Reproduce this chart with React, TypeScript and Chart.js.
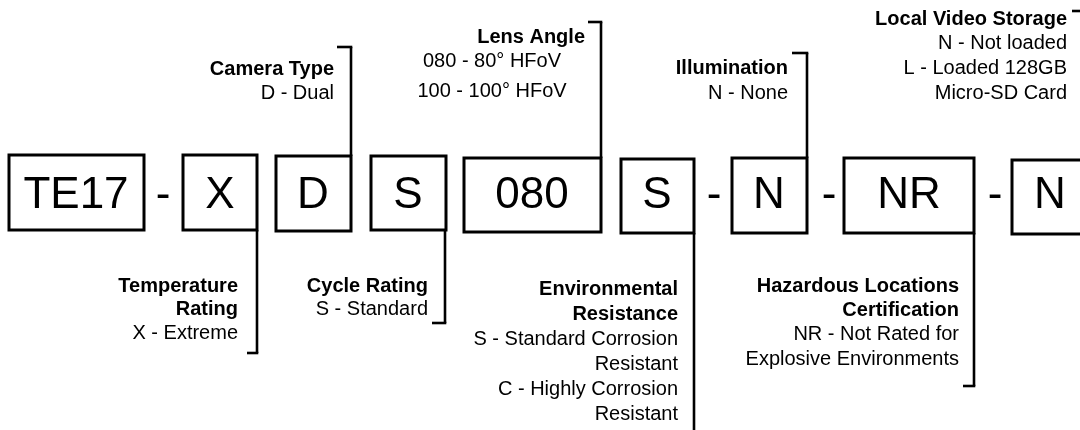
import React, { useEffect, useRef } from "react";
import { Chart, registerables } from "chart.js";

Chart.register(...registerables);

// Model code segments (boxed) and separators
const codes = ["TE17", "X", "D", "S", "080", "S", "N", "NR", "N"];
const boxLeft = [9, 183, 276, 371, 464, 621, 732, 844, 1012];
const boxRight = [144, 257, 351, 446, 601, 694, 807, 974, 1095];
const boxTop = [155, 155, 156, 156, 158, 159, 158, 158, 160];
const boxBottom = [230, 230, 231, 230, 232, 233, 233, 233, 234];
const codeCenter = [76, 220, 313, 408, 532, 657, 769, 909, 1050];
const separators = ["-", "-", "-", "-"];
const separatorX = [163, 714, 829, 995];

// Annotation labels
const labelTitles = [
  ["Camera Type"],
  ["Lens Angle"],
  ["Illumination"],
  ["Local Video Storage"],
  ["Temperature", "Rating"],
  ["Cycle Rating"],
  ["Environmental", "Resistance"],
  ["Hazardous Locations", "Certification"],
];
const labelLines = [
  ["D - Dual"],
  ["080 - 80° HFoV", "100 - 100° HFoV"],
  ["N - None"],
  ["N - Not loaded", "L - Loaded 128GB", "Micro-SD Card"],
  ["X - Extreme"],
  ["S - Standard"],
  ["S - Standard Corrosion", "Resistant", "C - Highly Corrosion", "Resistant"],
  ["NR - Not Rated for", "Explosive Environments"],
];
const labelBox = [2, 4, 6, 8, 1, 3, 5, 7];
const labelSide = ["top", "top", "top", "top", "bottom", "bottom", "bottom", "bottom"];
const labelTextRight = [334, 585, 788, 1067, 238, 428, 678, 959];
const labelLineCenter = [null, 492, null, null, null, null, null, null];
const labelBaselines = [
  [75, 99],
  [43, 67, 97],
  [74, 99],
  [25, 49, 74, 99],
  [292, 315, 339],
  [292, 315],
  [295, 320, 345, 370, 395, 420],
  [292, 316, 340, 365],
];
const bracketX = [351, 601, 807, 1085, 257, 445, 694, 974];
const bracketEnd = [47, 22, 53, 11, 353, 323, 440, 386];
const bracketTick = [337, 588, 792, 1072, 247, 432, 694, 963];

const FONT = '"Liberation Sans", Arial, sans-serif';

const diagramPlugin = {
  id: "diagram",
  afterDraw(chart: any) {
    const ctx = chart.ctx;
    const xs = chart.scales.x;
    const ys = chart.scales.y;
    const px = (v: number) => xs.getPixelForValue(v);
    const py = (v: number) => ys.getPixelForValue(v);
    ctx.save();
    ctx.strokeStyle = "#000";
    ctx.fillStyle = "#000";
    ctx.lineWidth = 3;
    ctx.lineCap = "butt";

    // boxes
    codes.forEach((c, i) => {
      const l = px(boxLeft[i]);
      const r = px(boxRight[i]);
      const t = py(boxTop[i]);
      const b = py(boxBottom[i]);
      ctx.lineWidth = 3;
      ctx.strokeRect(l, t, r - l, b - t);
      ctx.font = `44px ${FONT}`;
      ctx.textAlign = "center";
      ctx.textBaseline = "alphabetic";
      ctx.fillText(c, px(codeCenter[i]), py(208));
    });

    // separators
    separators.forEach((s, i) => {
      ctx.font = `44px ${FONT}`;
      ctx.textAlign = "center";
      ctx.fillText(s, px(separatorX[i]), py(208));
    });

    // brackets and labels
    labelTitles.forEach((titles, i) => {
      const bi = labelBox[i];
      const x = px(bracketX[i]);
      const start = labelSide[i] === "top" ? py(boxTop[bi]) : py(boxBottom[bi]);
      const end = py(bracketEnd[i]);
      ctx.lineWidth = 2.6;
      ctx.beginPath();
      ctx.moveTo(x, start);
      ctx.lineTo(x, end);
      ctx.stroke();
      if (bracketTick[i] !== bracketX[i]) {
        ctx.beginPath();
        ctx.moveTo(px(bracketTick[i]), end);
        ctx.lineTo(x + 1.3, end);
        ctx.stroke();
      }
      const bl = labelBaselines[i];
      let k = 0;
      titles.forEach((t) => {
        ctx.font = `bold 20px ${FONT}`;
        ctx.textAlign = "right";
        ctx.fillText(t, px(labelTextRight[i]), py(bl[k]));
        k++;
      });
      labelLines[i].forEach((t) => {
        ctx.font = `20px ${FONT}`;
        const c = labelLineCenter[i];
        if (c !== null) {
          ctx.textAlign = "center";
          ctx.fillText(t, px(c as number), py(bl[k]));
        } else {
          ctx.textAlign = "right";
          ctx.fillText(t, px(labelTextRight[i]), py(bl[k]));
        }
        k++;
      });
    });
    ctx.restore();
  },
};

export default function App() {
  const ref = useRef<HTMLCanvasElement>(null);
  useEffect(() => {
    if (!ref.current) return;
    const chart = new Chart(ref.current, {
      type: "scatter",
      data: {
        datasets: [
          {
            data: codes.map((_, i) => ({ x: codeCenter[i], y: 193 })),
            pointRadius: 0,
          },
        ],
      },
      options: {
        animation: false,
        responsive: false,
        maintainAspectRatio: false,
        layout: { padding: 0 },
        events: [],
        plugins: { legend: { display: false }, tooltip: { enabled: false } },
        scales: {
          x: { type: "linear", min: 0, max: 1080, display: false },
          y: { type: "linear", min: 0, max: 430, reverse: true, display: false },
        },
      },
      plugins: [diagramPlugin],
    });
    return () => chart.destroy();
  }, []);
  return (
    <div style={{ position: "fixed", left: 0, top: 0, width: 1080, height: 430, background: "#fff" }}>
      <canvas ref={ref} width={1080} height={430} style={{ width: 1080, height: 430 }} />
    </div>
  );
}
